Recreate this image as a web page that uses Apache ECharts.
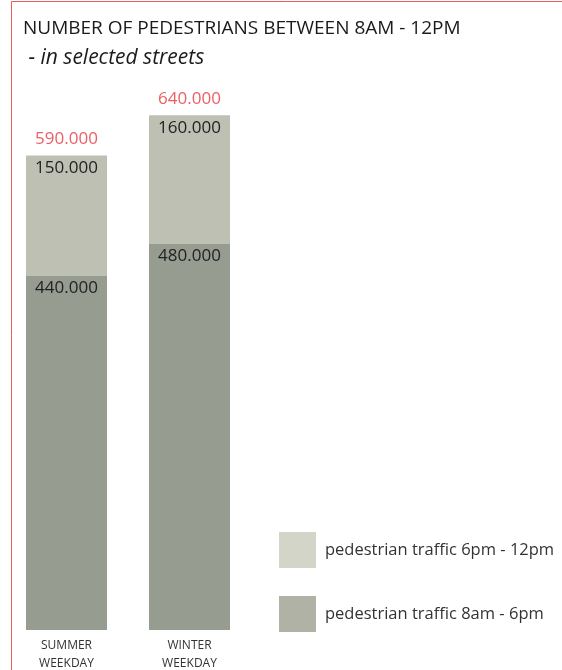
<!DOCTYPE html>
<html>
<head>
<meta charset="utf-8">
<script src="https://cdn.jsdelivr.net/npm/echarts@6/dist/echarts.min.js"></script>
<style>html,body{margin:0;padding:0;background:#fff}#c{width:562px;height:670px}</style>
</head>
<body>
<div id="c"></div>
<script>
var categories = ['SUMMER\nWEEKDAY', 'WINTER\nWEEKDAY'];
var daytime = [440, 480];      // thousands, 8am - 6pm
var evening = [150, 160];      // thousands, 6pm - 12pm
var totals = [590, 640];       // thousands
var seriesNames = ['pedestrian traffic 8am - 6pm', 'pedestrian traffic 6pm - 12pm'];

function fmt(v) { return v + '.000'; }

var FONT = '"Open Sans", sans-serif';
var chart = echarts.init(document.getElementById('c'));
chart.setOption({
  animation: false,
  textStyle: { fontFamily: FONT },
  title: {
    text: 'NUMBER OF PEDESTRIANS BETWEEN 8AM - 12PM',
    subtext: ' - in selected streets',
    left: 18, top: 14, itemGap: 10,
    textStyle: { fontFamily: FONT, fontSize: 19, fontWeight: 'normal', color: '#1a1a1a' },
    subtextStyle: { fontFamily: FONT, fontSize: 21, fontStyle: 'italic', color: '#1a1a1a' }
  },
  graphic: [
    { type: 'line', shape: { x1: 11.5, y1: 1.5, x2: 562, y2: 1.5 }, style: { stroke: '#ef5a5a', lineWidth: 1 } },
    { type: 'line', shape: { x1: 11.5, y1: 1.5, x2: 11.5, y2: 670 }, style: { stroke: '#ef5a5a', lineWidth: 1 } }
  ],
  legend: {
    orient: 'vertical', left: 279, top: 532, padding: 0,
    itemWidth: 37, itemHeight: 36, itemGap: 28,
    icon: 'rect',
    textStyle: { fontFamily: FONT, fontSize: 16.5, color: '#333', padding: [0, 0, 0, 4] },
    data: [
      { name: seriesNames[1], itemStyle: { color: '#d3d5c8' } },
      { name: seriesNames[0], itemStyle: { color: '#b0b2a5' } }
    ]
  },
  grid: { left: 5, width: 246, top: 67, bottom: 40, outerBoundsMode: 'none', containLabel: false },
  xAxis: {
    type: 'category', data: categories,
    axisLine: { show: false }, axisTick: { show: false },
    axisLabel: { fontFamily: FONT, fontSize: 12, color: '#333', lineHeight: 18, margin: 7 }
  },
  yAxis: { type: 'value', min: 0, max: 700, show: false, splitLine: { show: false } },
  series: [
    {
      name: seriesNames[0], type: 'bar', stack: 'a', data: daytime, barWidth: 81,
      itemStyle: { color: '#979c91' },
      label: { show: true, position: 'insideTop', distance: 4, formatter: function (p) { return fmt(p.value); },
        fontFamily: FONT, fontSize: 17, color: '#222' }
    },
    {
      name: seriesNames[1], type: 'bar', stack: 'a', data: evening, barWidth: 81,
      itemStyle: { color: '#bec0b3' },
      label: { show: true, position: 'insideTop', distance: 4, formatter: function (p) { return fmt(p.value); },
        fontFamily: FONT, fontSize: 17, color: '#222' }
    },
    {
      name: 'total', type: 'scatter', data: totals, symbolSize: 0, silent: true,
      label: { show: true, position: 'top', distance: 8, formatter: function (p) { return fmt(p.value); },
        fontFamily: FONT, fontSize: 17, color: '#e8353a' }
    }
  ]
});
</script>
</body>
</html>
